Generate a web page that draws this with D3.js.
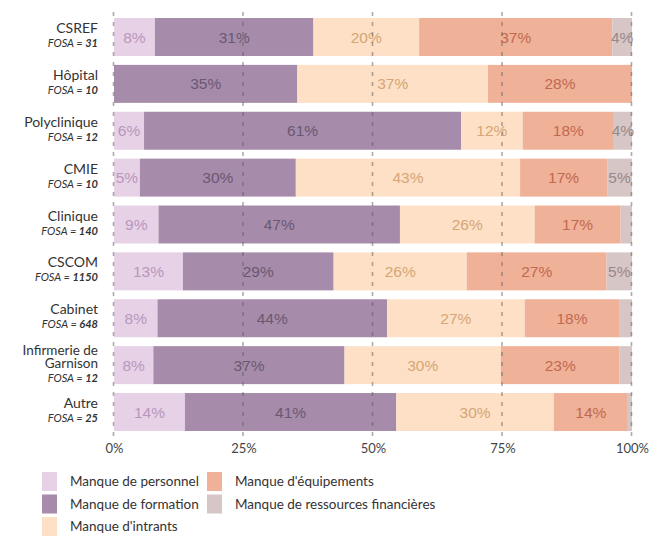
<!DOCTYPE html>
<html>
<head>
<meta charset="utf-8">
<script src="https://cdn.jsdelivr.net/npm/d3@7"></script>
<style>
  body { margin: 0; background: #fff; }
  svg { display: block; }
</style>
</head>
<body>
<svg id="chart" width="666" height="537"></svg>
<script>
// Facility types and number of facilities (FOSA) surveyed
const categories = ["CSREF", "Hôpital", "Polyclinique", "CMIE", "Clinique", "CSCOM", "Cabinet", "Infirmerie de Garnison", "Autre"];
const categoryLines = [["CSREF"], ["Hôpital"], ["Polyclinique"], ["CMIE"], ["Clinique"], ["CSCOM"], ["Cabinet"], ["Infirmerie de", "Garnison"], ["Autre"]];
const fosaCounts = [31, 10, 12, 10, 140, 1150, 648, 12, 25];

// Share (%) of each constraint, per facility type
const seriesNames = ["Manque de personnel", "Manque de formation", "Manque d'intrants", "Manque d'équipements", "Manque de ressources financières"];
const personnel   = [7.9, 0,    5.8,  5.0,  8.6,  13.3, 8.4,  7.6,  13.7];
const formation   = [30.6, 35.4, 61.2, 30.1, 46.6, 29.1, 44.3, 36.9, 40.8];
const intrants    = [20.4, 36.8, 11.9, 43.3, 26.0, 25.7, 26.6, 30.2, 30.4];
const equipements = [37.3, 27.8, 17.6, 16.8, 16.6, 27.0, 18.2, 22.9, 14.3];
const ressources  = [3.8,  0,    3.5,  4.8,  2.2,  4.9,  2.5,  2.4,  0.8];

const tickValues = [0, 25, 50, 75, 100];
const tickLabels = ["0%", "25%", "50%", "75%", "100%"];

const fillColors  = ["#e6d1e6", "#a68baa", "#fde0c6", "#f0b199", "#d7c6c6"];
const labelColors = ["#b997bc", "#6b5872", "#d6a675", "#bf6a4f", "#998888"];

const seriesValues = [personnel, formation, intrants, equipements, ressources];
const rows = categories.map((c, i) => {
  const r = { category: c };
  seriesNames.forEach((s, k) => { r[s] = seriesValues[k][i]; });
  return r;
});
const stacked = d3.stack().keys(seriesNames)(rows);

const svg = d3.select("#chart");
const x = d3.scaleLinear().domain([0, 100]).range([114, 632]);
const y = d3.scaleBand().domain(categories).range([18, 431]).paddingInner(0.19).paddingOuter(0);
const color = d3.scaleOrdinal().domain(seriesNames).range(fillColors);
const labelColor = d3.scaleOrdinal().domain(seriesNames).range(labelColors);

const labelFont = "Lato, 'Source Sans Pro', 'Open Sans', sans-serif";

// Stacked bars
const layers = svg.append("g").selectAll("g")
  .data(stacked).join("g")
  .attr("fill", d => color(d.key));
layers.selectAll("rect")
  .data(d => d.map(p => ({ p, key: d.key })))
  .join("rect")
  .attr("x", d => x(d.p[0]))
  .attr("y", d => y(d.p.data.category))
  .attr("width", d => Math.max(0, x(d.p[1]) - x(d.p[0])))
  .attr("height", y.bandwidth());

// Value labels inside segments (segments under 3% stay unlabelled)
const labels = svg.append("g")
  .attr("font-family", "'Liberation Sans', Arial, sans-serif")
  .attr("font-size", "15.5px")
  .attr("text-anchor", "middle");
stacked.forEach(layer => {
  labels.selectAll(null)
    .data(layer.filter(p => (p[1] - p[0]) >= 3))
    .join("text")
    .attr("x", p => (x(p[0]) + x(p[1])) / 2)
    .attr("y", p => y(p.data.category) + y.bandwidth() / 2)
    .attr("dy", "0.36em")
    .attr("fill", labelColor(layer.key))
    .text(p => Math.round(p[1] - p[0]) + "%");
});

// Dashed vertical gridlines drawn over the bars
svg.append("g")
  .selectAll("line")
  .data(tickValues).join("line")
  .attr("x1", d => x(d) - 0.5).attr("x2", d => x(d) - 0.5)
  .attr("y1", 12).attr("y2", 438)
  .attr("stroke", "#5a5a5a")
  .attr("stroke-opacity", 0.5)
  .attr("stroke-width", 1.6)
  .attr("stroke-dasharray", "4,6");

// Bottom axis labels
const axis = d3.axisBottom(x).tickValues(tickValues).tickSize(0)
  .tickFormat((d, i) => tickLabels[i]);
const axisG = svg.append("g").attr("transform", "translate(0,441)").call(axis);
axisG.select(".domain").remove();
axisG.selectAll("text")
  .attr("font-family", labelFont)
  .attr("font-size", "13px")
  .attr("fill", "#444");

// Category labels (wrapped names in one text element) with FOSA counts
const catG = svg.append("g").attr("font-family", labelFont).attr("text-anchor", "end");
categories.forEach((c, i) => {
  const lines = categoryLines[i];
  const cy = y(c) + y.bandwidth() / 2;
  const multi = lines.length > 1;
  const nameStep = 13;
  const name = catG.append("text")
    .attr("x", 98)
    .attr("y", multi ? cy - 10 : cy - 4)
    .attr("font-size", multi ? "13.5px" : "14px")
    .attr("fill", "#333");
  lines.forEach((ln, j) => {
    name.append("tspan")
      .attr("x", 98)
      .attr("dy", j === 0 ? 0 : nameStep)
      .text(ln);
  });
  const t = catG.append("text")
    .attr("x", 98)
    .attr("y", multi ? cy + 17 : cy + 10)
    .attr("font-size", "11px")
    .attr("font-style", "italic")
    .attr("fill", "#333");
  t.append("tspan").text("FOSA = ");
  t.append("tspan").attr("font-weight", "bold").text(fosaCounts[i]);
});

// Legend (column-major, two columns)
const legendCols = [42, 207];
const legendRows = [472, 494.5, 517];
const legend = svg.append("g").attr("font-family", labelFont).attr("font-size", "13.5px");
seriesNames.forEach((s, k) => {
  const col = Math.floor(k / 3), row = k % 3;
  const lx = legendCols[col], ly = legendRows[row];
  legend.append("rect")
    .attr("x", lx).attr("y", ly).attr("width", 15).attr("height", 19)
    .attr("fill", color(s));
  legend.append("text")
    .attr("x", lx + 28).attr("y", ly + 14)
    .attr("fill", "#333")
    .text(s);
});
</script>
</body>
</html>
